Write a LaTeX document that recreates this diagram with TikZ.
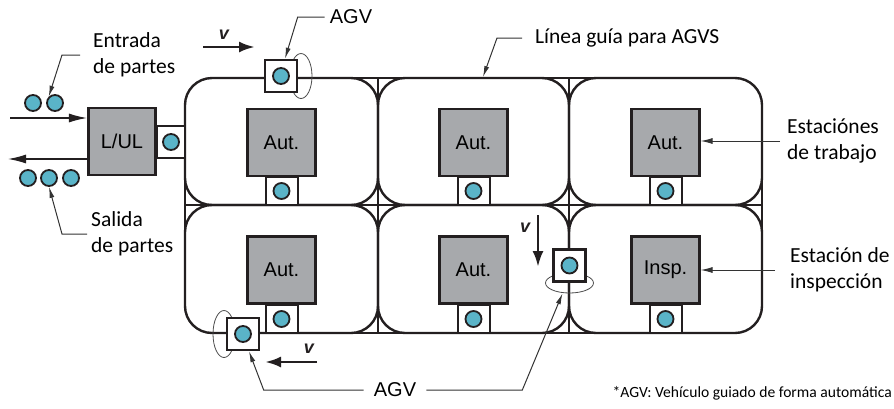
\documentclass[tikz,border=0pt]{standalone}
\usepackage{fontspec}
\setmainfont{Carlito}
\newfontfamily\arialfont{Liberation Sans}
\usetikzlibrary{arrows.meta,shapes.geometric}
\definecolor{partblue}{HTML}{5AB4C8}
\definecolor{stationgray}{HTML}{A7A9AC}
\definecolor{trackblack}{HTML}{231F20}

\begin{document}
\begin{tikzpicture}[x=1pt,y=-1pt,
	track/.style={draw=trackblack, line width=2.4pt},
	station/.style={draw=trackblack, line width=2.6pt, fill=stationgray, minimum width=67.5pt, minimum height=67pt, inner sep=0pt, font=\arialfont\fontsize{20}{24}\selectfont},
	dock/.style={draw=trackblack, line width=2pt, fill=white, minimum width=32pt, minimum height=28pt, inner sep=0pt},
	agv/.style={draw=trackblack, line width=2.6pt, fill=white, minimum size=32pt, inner sep=0pt},
	part/.style={circle, draw=trackblack, line width=1.8pt, fill=partblue, minimum size=16pt, inner sep=0pt},
	loopring/.style={ellipse, draw=black!70, line width=0.8pt, inner sep=0pt},
	callout/.style={font=\fontsize{21.5}{26}\selectfont, align=left, inner sep=0pt},
	agvlabel/.style={font=\arialfont\fontsize{20}{24}\selectfont, inner sep=0pt},
	vlabel/.style={font=\arialfont\bfseries\itshape\fontsize{18}{20}\selectfont, text=trackblack},
	leader/.style={draw=black!80, line width=1pt, -{Latex[length=11pt,width=5pt]}},
	flow/.style={draw=trackblack, line width=1.3pt, -{Latex[length=18pt,width=9pt]}},
	speed/.style={draw=trackblack, line width=2.8pt, -{Latex[length=16pt,width=11pt]}}]

	\useasboundingbox (0,0) rectangle (894,408);

	\foreach \xa/\xb in {185/378,378/569,569/762}
		\foreach \ya/\yb in {78/205,205/333}
			\draw [track, rounded corners=27pt] (\xa,\ya) rectangle (\xb,\yb);

	\draw [track] (212,78) -- (735,78);
	\draw [track] (185,205) -- (762,205);
	\draw [track] (212,333) -- (735,333);
	\draw [track] (185,105) -- (185,306);
	\draw [track] (378,78) -- (378,333);
	\draw [track] (569,78) -- (569,333);
	\draw [track] (762,105) -- (762,306);

	\node [station] (lul) at (122,141.5) {L/UL};
	\node [station] (aut1) at (281.5,142.5) {Aut.};
	\node [station] (aut2) at (473.5,142.5) {Aut.};
	\node [station] (aut3) at (665.5,142.5) {Aut.};
	\node [station] (aut4) at (281.5,270) {Aut.};
	\node [station] (aut5) at (473.5,270) {Aut.};
	\node [station] (insp) at (665.5,270) {Insp.};

	\node [dock, minimum width=28pt, minimum height=32pt] (dock0) at (171,142) {};
	\node [dock] (dock1) at (281.5,191) {};
	\node [dock] (dock2) at (473.5,191) {};
	\node [dock] (dock3) at (665.5,191) {};
	\node [dock] (dock4) at (281.5,319) {};
	\node [dock] (dock5) at (473.5,319) {};
	\node [dock] (dock6) at (665.5,319) {};

	\node [part] (pd0) at (dock0) {};
	\node [part] (pd1) at (dock1) {};
	\node [part] (pd2) at (dock2) {};
	\node [part] (pd3) at (dock3) {};
	\node [part] (pd4) at (dock4) {};
	\node [part] (pd5) at (dock5) {};
	\node [part] (pd6) at (dock6) {};

	\node [loopring, minimum width=22pt, minimum height=45pt] (lp1) at (301,76) {};
	\node [loopring, minimum width=22pt, minimum height=47pt] (lp2) at (224,334) {};
	\node [loopring, minimum width=48pt, minimum height=20pt] (lp3) at (569.5,283) {};

	\node [agv] (agv1) at (281,76) {};
	\node [agv] (agv2) at (243,334) {};
	\node [agv] (agv3) at (569.5,265.5) {};
	\node [part] (pa1) at (agv1) {};
	\node [part] (pa2) at (agv2) {};
	\node [part] (pa3) at (agv3) {};

	\node [part] (in1) at (33,103) {};
	\node [part] (in2) at (55,103) {};
	\node [part] (out1) at (28,178) {};
	\node [part] (out2) at (49,178) {};
	\node [part] (out3) at (71,178) {};

	\coordinate (inA) at (10,118);
	\coordinate (outB) at (8,159);
	\draw [flow] (inA) -- (inA -| lul.west);
	\draw [flow] (outB -| lul.west) -- (outB);

	\coordinate (vt1) at (203,47);
	\coordinate (vt2) at (255,47);
	\coordinate (vm1) at (538,215);
	\coordinate (vm2) at (538,267);
	\coordinate (vb1) at (317,362);
	\coordinate (vb2) at (265,362);
	\draw [speed] (vt1) -- (vt2);
	\draw [speed] (vm1) -- (vm2);
	\draw [speed] (vb1) -- (vb2);
	\node [vlabel] (vtop) at (224,35) {v};
	\node [vlabel] (vmid) at (525,228) {v};
	\node [vlabel] (vbot) at (309,349) {v};

	\node [callout, anchor=west] (entrada) at (93,55) {Entrada\\de partes};
	\node [callout, anchor=west] (salida) at (91,234) {Salida\\de partes};
	\node [callout, anchor=west] (linea) at (535,38) {Línea guía para AGVS};
	\node [callout, anchor=west] (estaciones) at (787,141) {Estaciónes\\de trabajo};
	\node [callout, anchor=west] (inspeccion) at (790,270) {Estación de\\inspección};
	\node [agvlabel] (agvtop) at (351,17) {AGV};
	\node [agvlabel] (agvbot) at (395,390) {AGV};
	\node [anchor=east, inner sep=0pt, font=\fontsize{15.6}{18}\selectfont] (nota) at (892,393) {*AGV: Vehículo guiado de forma automática};

	\coordinate (guia) at (483,77);
	\draw [leader] ([xshift=-13pt]entrada.west) -- ++(-18,0) -- (in2.north west);
	\draw [leader] ([xshift=-4pt]salida.west) -- ++(-25,0) -- (out2.south);
	\draw [leader] ([xshift=-5pt]agvtop.west) -- ++(-27,0) -- ([xshift=4pt]agv1.north);
	\draw [leader] ([xshift=-13pt]linea.west) -- ++(-25,0) -- (guia);
	\draw [leader, -{Latex[length=12pt,width=6pt]}] ([xshift=-7pt]estaciones.west) -- (estaciones.west -| aut3.east);
	\draw [leader, -{Latex[length=12pt,width=6pt]}] ([xshift=-15pt]inspeccion.west) -- (inspeccion.west -| insp.east);
	\draw [leader] ([xshift=-10pt]agvbot.west) -- ++(-100,0) -- ([xshift=6pt]agv2.south);
	\draw [leader] ([xshift=10pt]agvbot.east) -- ++(96,0) -- ([xshift=-7pt]lp3.south);
\end{tikzpicture}
\end{document}
